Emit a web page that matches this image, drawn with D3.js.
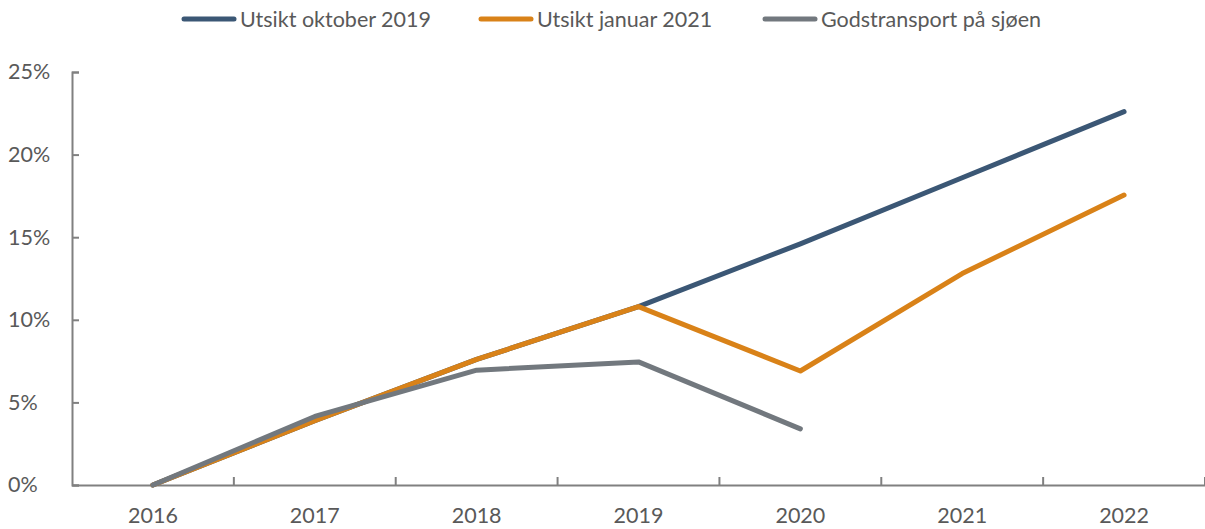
<!DOCTYPE html>
<html>
<head>
<meta charset="utf-8">
<script src="https://cdn.jsdelivr.net/npm/d3@7"></script>
<style>
  body { margin: 0; background: #fff; }
  text { font-family: Lato, "Open Sans", sans-serif; fill: #595959; }
</style>
</head>
<body>
<main></main>
<script>
const years = ["2016", "2017", "2018", "2019", "2020", "2021", "2022"];
const yTicks = [0, 5, 10, 15, 20, 25];
const seriesNames = ["Utsikt oktober 2019", "Utsikt januar 2021", "Godstransport på sjøen"];
const oktober2019 = [0, 3.9, 7.6, 10.8, 14.6, 18.6, 22.6];
const januar2021 = [0, 3.9, 7.6, 10.8, 6.9, 12.8, 17.55];
const sjoen = [0, 4.15, 6.95, 7.45, 3.4, null, null];
const colors = ["#3b5775", "#d98218", "#72787e"];

const w = 1205;
const h = 529;
const plotLeft = 72;
const plotRight = 1205;
const plotTop = 72;
const plotBottom = 485;
const fontSize = "21.5px";

const svg = d3
  .select("main")
  .append("svg")
  .attr("width", w)
  .attr("height", h);

const x = d3.scaleBand().domain(years).range([plotLeft, plotRight]);
const y = d3.scaleLinear().domain([0, 25]).range([plotBottom, plotTop]);

// y axis
const yAxis = svg
  .append("g")
  .attr("transform", `translate(${plotLeft},0)`)
  .call(
    d3
      .axisLeft(y)
      .tickValues(yTicks)
      .tickSize(-7)
      .tickFormat((d) => d + "%")
  );

// x axis with ticks on band edges
const xAxis = svg
  .append("g")
  .attr("transform", `translate(0,${plotBottom})`)
  .call(d3.axisBottom(x).tickSize(0).tickPadding(23));

xAxis
  .selectAll("line.edge")
  .data(years)
  .join("line")
  .attr("class", "edge")
  .attr("x1", (d) => x(d) + x.bandwidth())
  .attr("x2", (d) => x(d) + x.bandwidth())
  .attr("y1", 0)
  .attr("y2", -8);

svg.selectAll(".domain").attr("stroke", "#808080").attr("stroke-width", 2);
svg.selectAll(".tick line, line.edge").attr("stroke", "#808080").attr("stroke-width", 2);
svg.selectAll(".tick text").style("font-size", fontSize).attr("fill", "#595959");
yAxis.selectAll(".tick text").attr("text-anchor", "start").attr("x", -plotLeft + 8);

// lines
const line = d3
  .line()
  .defined((d) => d != null)
  .x((d, i) => x(years[i]) + x.bandwidth() / 2)
  .y((d) => y(d));

const allSeries = [oktober2019, januar2021, sjoen];

svg
  .append("g")
  .selectAll("path")
  .data(allSeries)
  .join("path")
  .attr("d", line)
  .attr("fill", "none")
  .attr("stroke", (d, i) => colors[i])
  .attr("stroke-width", 5)
  .attr("stroke-linecap", "round")
  .attr("stroke-linejoin", "round");

// legend
const legendX = [182, 479, 763];
const legend = svg
  .append("g")
  .selectAll("g")
  .data(seriesNames)
  .join("g")
  .attr("transform", (d, i) => `translate(${legendX[i]},19)`);

legend
  .append("line")
  .attr("x1", 2)
  .attr("x2", 52)
  .attr("stroke", (d, i) => colors[i])
  .attr("stroke-width", 5)
  .attr("stroke-linecap", "round");

legend
  .append("text")
  .attr("x", 58)
  .attr("dy", "0.35em")
  .style("font-size", fontSize)
  .text((d) => d);
</script>
</body>
</html>
